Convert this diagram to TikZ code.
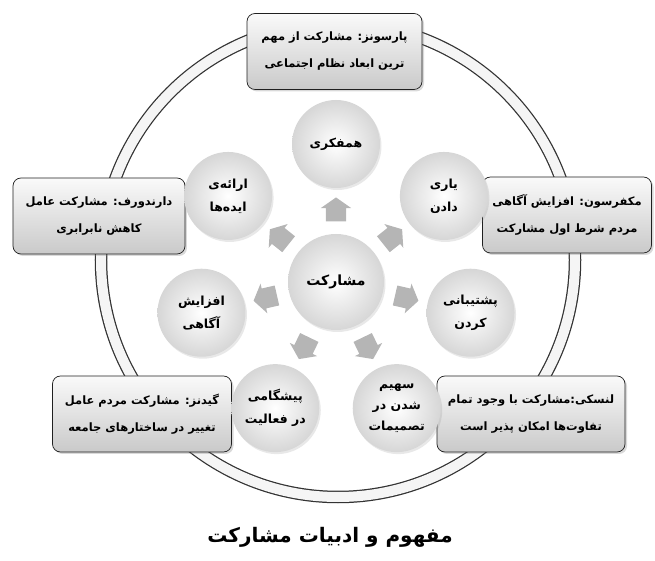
\documentclass[tikz,border=0pt]{standalone}
\usepackage{fontspec}
\usepackage{tikz}
\usetikzlibrary{shapes.arrows}
\usetikzlibrary{shadows}
\usetikzlibrary{calc}
\newfontfamily\farsi[Script=Arabic]{DejaVu Sans}
\TeXXeTstate=1
\newcommand{\fl}[1]{\beginR #1\endR}

\begin{document}
\begin{tikzpicture}[x=1pt,y=1pt,
	idea/.style={circle, minimum size=88pt, inner sep=0pt, align=center,
		inner color=white, outer color=gray!32,
		drop shadow={opacity=0.18, shadow xshift=1.5pt, shadow yshift=-2pt},
		font=\farsi\bfseries\fontsize{12.5}{23}\selectfont},
	quote/.style={draw=gray!25!black, line width=0.7pt, rounded corners=8pt,
		align=center, minimum height=76pt, top color=gray!4, bottom color=gray!42,
		drop shadow={opacity=0.3, shadow xshift=2pt, shadow yshift=-2pt},
		font=\farsi\bfseries\fontsize{11.5}{27}\selectfont},
	blk/.style={single arrow, fill=gray!58, minimum height=24pt, minimum width=30pt,
		single arrow head extend=5pt, single arrow tip angle=110,
		inner xsep=0pt, inner ysep=10pt}]
	\useasboundingbox (-336,282) rectangle (319,-279);
	% ring
	\coordinate (R) at (2,22);
	\draw[line width=12.5pt, gray!40!black] (R) circle (237);
	\draw[line width=10pt, gray!8] (R) circle (237);
	% quotes on the ring
	\node[quote, minimum width=175pt] (Q1) at (-1.5,230.5) {\fl{پارسونز: مشارکت از مهم}\\\fl{ترین ابعاد نظام اجتماعی}};
	\node[quote, minimum width=172pt] (Q2) at (-237,66) {\fl{دارندورف: مشارکت عامل}\\\fl{کاهش نابرابری}};
	\node[quote, minimum width=169pt] (Q3) at (231,67) {\fl{مکفرسون: افزایش آگاهی}\\\fl{مردم شرط اول مشارکت}};
	\node[quote, minimum width=179pt] (Q4) at (-194,-132) {\fl{گیدنز: مشارکت مردم عامل}\\\fl{تغییر در ساختارهای جامعه}};
	\node[quote, minimum width=188pt] (Q5) at (195,-132) {\fl{لنسکی:مشارکت با وجود تمام}\\\fl{تفاوت‌ها امکان پذیر است}};
	% circles
	\node[idea, minimum size=96pt, font=\farsi\bfseries\fontsize{14}{23}\selectfont] (K0) at (0,0) {\fl{مشارکت}};
	\node[idea] (K1) at (90:138) {\fl{همفکری}};
	\node[idea] (K2) at (38.57:138) {\fl{یاری}\\\fl{دادن}};
	\node[idea] (K3) at (-12.86:138) {\fl{پشتیبانی}\\\fl{کردن}};
	\node[idea, font=\farsi\bfseries\fontsize{12.5}{21}\selectfont] (K4) at (-64.29:140) {\fl{سهیم}\\\fl{شدن در}\\\fl{تصمیمات}};
	\node[idea] (K5) at (-115.71:140) {\fl{پیشگامی}\\\fl{در فعالیت}};
	\node[idea] (K6) at (192.86:138) {\fl{افزایش}\\\fl{آگاهی}};
	\node[idea] (K7) at (141.43:138) {\fl{ارائه‌ی}\\\fl{ایده‌ها}};
	% arrows
	\node[blk, rotate=90] (A1) at ($(K0)!.5!(K1)$) {};
	\node[blk, rotate=38.57] (A2) at ($(K0)!.5!(K2)$) {};
	\node[blk, rotate=-12.86] (A3) at ($(K0)!.5!(K3)$) {};
	\node[blk, rotate=-64.29] (A4) at ($(K0)!.5!(K4)$) {};
	\node[blk, rotate=-115.71] (A5) at ($(K0)!.5!(K5)$) {};
	\node[blk, rotate=192.86] (A6) at ($(K0)!.5!(K6)$) {};
	\node[blk, rotate=141.43] (A7) at ($(K0)!.5!(K7)$) {};
	% title
	\node[font=\farsi\bfseries\fontsize{20}{24}\selectfont] (T) at (-6,-255) {\fl{مفهوم و ادبیات مشارکت}};
\end{tikzpicture}
\end{document}
